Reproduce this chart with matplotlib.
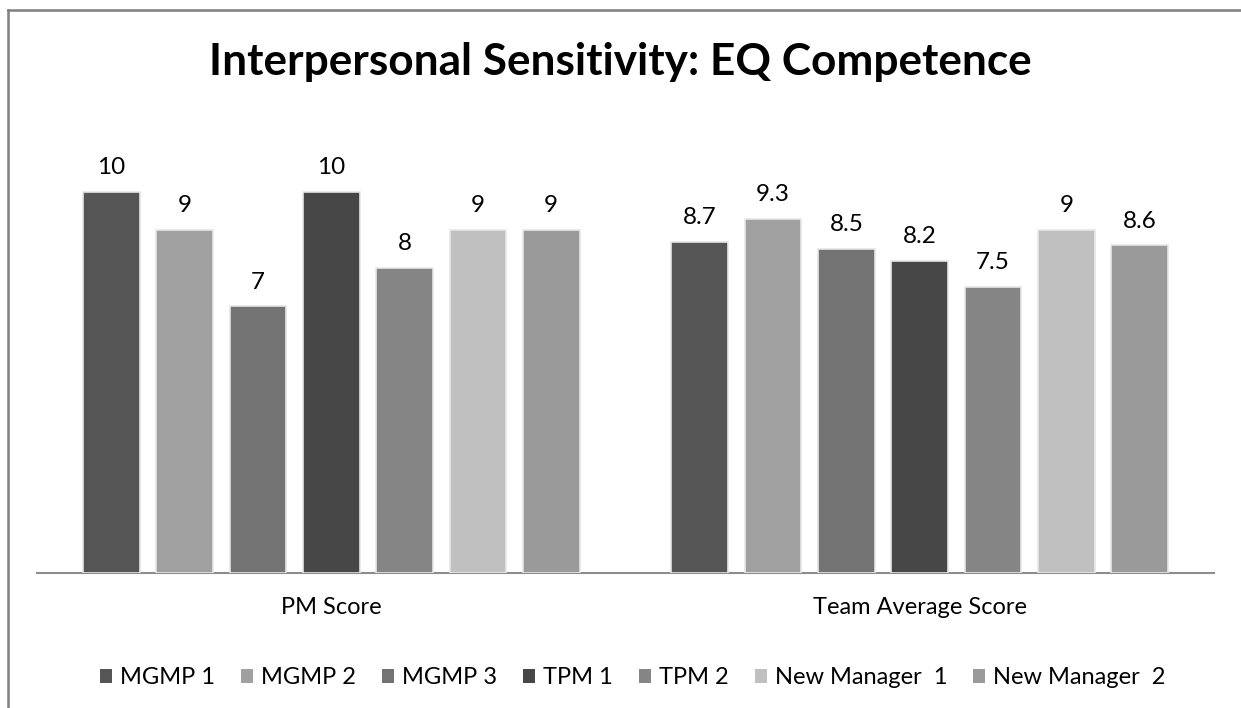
import numpy as np
import matplotlib
matplotlib.use("Agg")
import matplotlib.pyplot as plt
from matplotlib.patches import Patch
from matplotlib.lines import Line2D

plt.rcParams['font.family'] = ['Lato', 'DejaVu Sans']

# data
categories = ['PM Score', 'Team Average Score']
series = ['MGMP 1', 'MGMP 2', 'MGMP 3', 'TPM 1', 'TPM 2', 'New Manager  1', 'New Manager  2']
values = [
    [10, 8.7],
    [9, 9.3],
    [7, 8.5],
    [10, 8.2],
    [8, 7.5],
    [9, 9],
    [9, 8.6],
]
labels = [
    ['10', '8.7'],
    ['9', '9.3'],
    ['7', '8.5'],
    ['10', '8.2'],
    ['8', '7.5'],
    ['9', '9'],
    ['9', '8.6'],
]
colors = ['#555555', '#a0a0a0', '#737373', '#474747', '#858585', '#c0c0c0', '#9a9a9a']

fig = plt.figure(figsize=(12.41, 7.08), dpi=100)
ax = fig.add_axes([37/1241, 1-573/708, (1214-37)/1241, (573-116)/708])

x = np.arange(len(categories))
pitch = 0.1246
width = 0.0963
n = len(series)
for i in range(n):
    pos = x + (i - (n-1)/2) * pitch
    bars = ax.bar(pos, values[i], width, color=colors[i], edgecolor='#e6e6e6', linewidth=1.2, zorder=3)
    for b, lab in zip(bars, labels[i]):
        ax.annotate(lab, (b.get_x() + b.get_width()/2, b.get_height()),
                    xytext=(0, 10), textcoords='offset points',
                    ha='center', va='bottom', fontsize=17.5, color='#000000')

ax.set_xlim(-0.5, 1.5)
ax.set_ylim(0, 12)
ax.set_yticks([])
ax.set_xticks(x)
ax.set_xticklabels(categories, fontsize=17)
ax.tick_params(axis='x', length=0, pad=17)
for s in ['top', 'right', 'left']:
    ax.spines[s].set_visible(False)
ax.spines['bottom'].set_color('#8c8c8c')
ax.spines['bottom'].set_linewidth(1.5)

fig.suptitle('Interpersonal Sensitivity: EQ Competence', fontsize=31.8, fontweight='bold', y=0.94)

handles = [Patch(facecolor=c, edgecolor='none') for c in colors]
fig.legend(handles, series, loc='center', bbox_to_anchor=(0.51, 1-678/708), ncol=7,
           frameon=False, fontsize=17, handlelength=0.5, handleheight=0.5,
           handletextpad=0.35, columnspacing=1.1)

# chart border (top and left visible)
fig.add_artist(Line2D([7.5/1241, 7.5/1241], [0, 1-9.5/708], color='#7f7f7f', lw=1.8))
fig.add_artist(Line2D([7.5/1241, 1], [1-9.5/708, 1-9.5/708], color='#7f7f7f', lw=1.8))

fig.savefig('out.png', dpi=100)
